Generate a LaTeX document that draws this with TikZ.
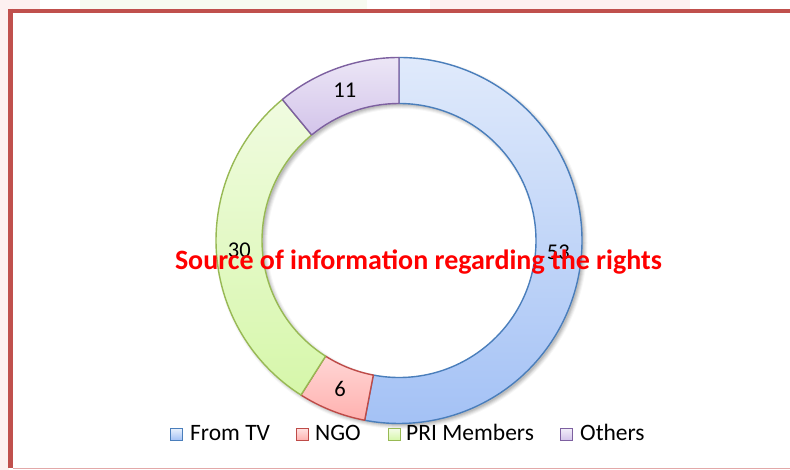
\documentclass[tikz,border=0pt]{standalone}
\usepackage{fontspec}
\setmainfont{Carlito}
\begin{document}
\begin{tikzpicture}[x=1pt,y=1pt,
  seg/.style={line width=1.4pt, line join=round},
  lbl/.style={font=\fontsize{22.5}{24}\selectfont, inner sep=0pt, text=black},
  legtext/.style={font=\fontsize{23.5}{25}\selectfont, inner sep=0pt, anchor=base west},
  legbox/.style={line width=1.4pt, minimum size=12pt, inner sep=0pt, anchor=south west}]
\definecolor{tvline}{HTML}{4A7EBB}\definecolor{tvtop}{HTML}{E0EAFB}\definecolor{tvbot}{HTML}{A3C1F5}
\definecolor{ngoline}{HTML}{BE4B48}\definecolor{ngotop}{HTML}{FFD6D5}\definecolor{ngobot}{HTML}{FFB1AF}
\definecolor{priline}{HTML}{98B954}\definecolor{pritop}{HTML}{F0FBE0}\definecolor{pribot}{HTML}{D6F7AA}
\definecolor{othline}{HTML}{7D60A0}\definecolor{othtop}{HTML}{ECE6F6}\definecolor{othbot}{HTML}{D3C4EA}
\definecolor{frame}{HTML}{C0504D}\definecolor{framelt}{HTML}{E3A8A8}
\definecolor{bgpink}{HTML}{FDF0F0}\definecolor{bggreen}{HTML}{F7FBF1}
\useasboundingbox (0,0) rectangle (790,470);
% faint background outside the frame
\fill[bgpink] (0,0) rectangle (9,470);
\fill[bgpink] (0,459) rectangle (40,470);
\fill[bggreen] (80,459) rectangle (367,470);
\fill[bgpink] (430,459) rectangle (690,470);
% frame
\draw[frame, line width=3.5pt] (10.8,459) -- (790,459);
\draw[frame, line width=5pt] (10.8,461) -- (10.8,1.5);
\draw[framelt, line width=1pt] (13,1.5) -- (790,1.5);
% centre
\coordinate (c) at (399,229.5);
% shadow
\foreach \d/\o in {3/0.03,2/0.05,1/0.06,0/0.07,-1/0.08}{
  \fill[black, opacity=\o, even odd rule] ([shift={(2.5,-2.5)}]c) circle (183+\d) ([shift={(2.5,-2.5)}]c) circle (137-\d);
}
% slices
\newcommand{\ringseg}[4]{%
  \path[seg, draw=#3, top color=#4top, bottom color=#4bot]
    ([shift={(#1:183)}]c) arc[start angle=#1, end angle=#2, radius=183]
    -- ([shift={(#2:137)}]c) arc[start angle=#2, end angle=#1, radius=137] -- cycle;}
\ringseg{90}{-100.8}{tvline}{tv}
\ringseg{-100.8}{-122.4}{ngoline}{ngo}
\ringseg{-122.4}{-230.4}{priline}{pri}
\ringseg{-230.4}{-270}{othline}{oth}
% data labels
\node[lbl] (ltv) at ([shift={(-5.4:160)}]c) [yshift=3pt] {53};
\node[lbl] (lngo) at ([shift={(-111.6:160)}]c) {6};
\node[lbl] (lpri) at ([shift={(-176.4:160)}]c) {30};
\node[lbl] (loth) at ([shift={(109.8:160)}]c) {11};
% title
\node[font=\bfseries\fontsize{28}{30}\selectfont, text=red, inner sep=0pt, anchor=base] (title) at (418.5,200) {Source of information regarding the rights};
% legend
\node[legbox, draw=tvline, top color=tvtop!70!white, bottom color=tvbot] (b1) at (170,29) {};
\node[legtext] (t1) at (190,29) {From TV};
\node[legbox, draw=ngoline, top color=ngotop!70!white, bottom color=ngobot] (b2) at (295.5,29) {};
\node[legtext] (t2) at (315,29) {NGO};
\node[legbox, draw=priline, top color=pritop!70!white, bottom color=pribot] (b3) at (387.5,29) {};
\node[legtext] (t3) at (406,29) {PRI Members};
\node[legbox, draw=othline, top color=othtop!70!white, bottom color=othbot] (b4) at (559.5,29) {};
\node[legtext] (t4) at (580,29) {Others};
\end{tikzpicture}
\end{document}
